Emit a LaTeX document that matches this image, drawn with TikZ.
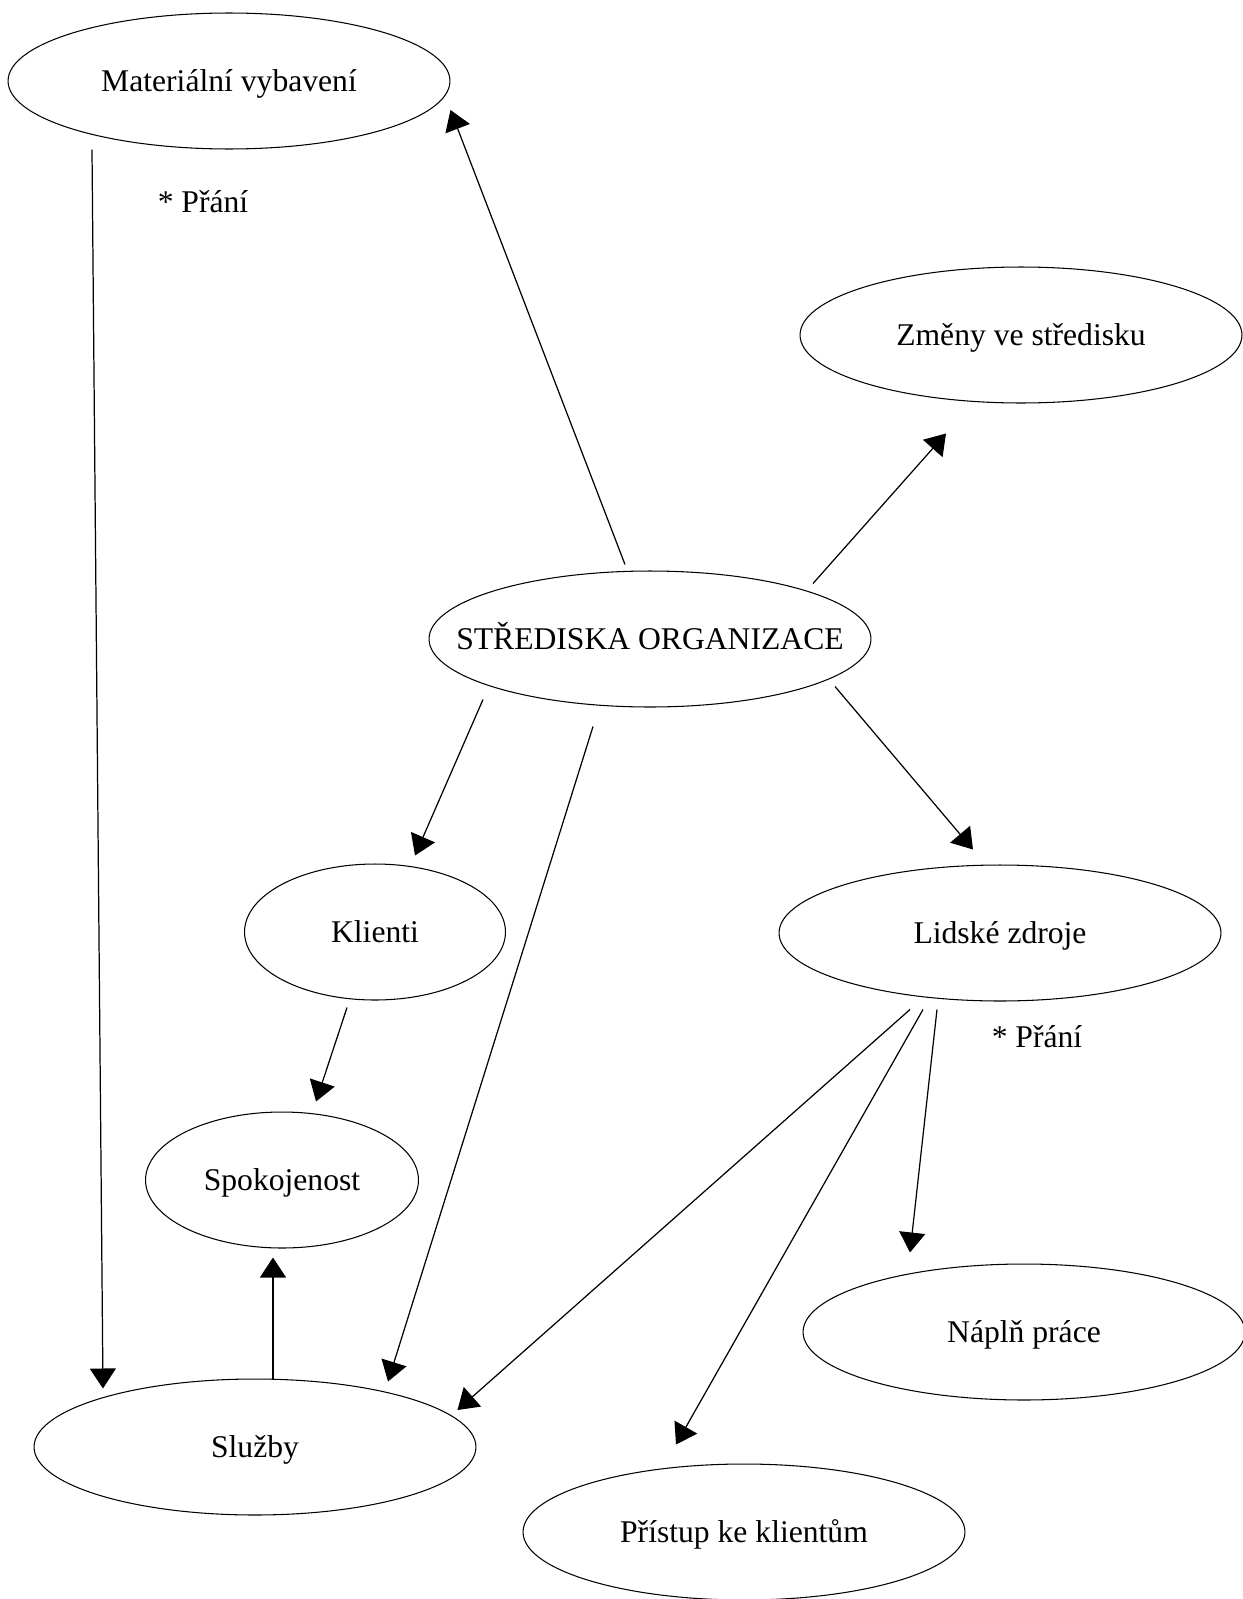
\documentclass[tikz,border=0pt]{standalone}
\usepackage{fontspec}
\setmainfont{Liberation Serif}
\usetikzlibrary{shapes.geometric,arrows.meta}

\begin{document}
\begin{tikzpicture}[x=0.02cm, y=-0.02cm,
    every node/.style={font=\fontsize{18}{22}\selectfont, text height=12pt, text depth=0pt},
    bubble/.style={ellipse, draw, line width=0.6pt, inner sep=0pt, minimum width=8.84cm, minimum height=2.72cm},
    arr/.style={-{Triangle[length=0.4cm, width=0.52cm]}, line width=0.7pt}]
    \useasboundingbox (0,0) rectangle (1242,1599);
    \node[bubble, label=center:{Materiální vybavení}] (mat) at (229,81) {};
    \node[bubble, label=center:{Změny ve středisku}] (zmeny) at (1021,335) {};
    \node[bubble, label=center:{STŘEDISKA ORGANIZACE}] (stred) at (650,639) {};
    \node[bubble, minimum width=5.22cm, label=center:{Klienti}] (klienti) at (375,932) {};
    \node[bubble, label=center:{Lidské zdroje}] (lidske) at (1000,933) {};
    \node[bubble, minimum width=5.46cm, label=center:{Spokojenost}] (spokoj) at (282,1180) {};
    \node[bubble, label=center:{Náplň práce}] (naplne) at (1024,1332) {};
    \node[bubble, label=center:{Služby}] (sluzby) at (255,1447) {};
    \node[bubble, label=center:{Přístup ke klientům}] (pristup) at (744,1532) {};
    \node (prani1) at (203,202) {* Přání};
    \node (prani2) at (1037,1037) {* Přání};
    % vazby
    \draw[arr] ([shift={(-137,0)}]mat.south) -- ([shift={(-152,10)}]sluzby.north);
    \draw[arr] ([shift={(-25,-6)}]stred.north) -- ([shift={(0,29)}]mat.east);
    \draw[arr] ([shift={(163,13)}]stred.north) -- ([shift={(-75,30)}]zmeny.south);
    \draw[arr] ([shift={(-167,-8)}]stred.south) -- ([shift={(40,-8)}]klienti.north);
    \draw[arr] ([shift={(-57,19)}]stred.south) -- ([shift={(133,3)}]sluzby.north);
    \draw[arr] ([shift={(185,-21)}]stred.south) -- ([shift={(-27,-15)}]lidske.north);
    \draw[arr] ([shift={(-28,7)}]klienti.south) -- ([shift={(34,-10)}]spokoj.north);
    \draw[arr] ([shift={(18,0)}]sluzby.north) -- ([shift={(-9,9)}]spokoj.south);
    \draw[arr] ([shift={(-90,8)}]lidske.south) -- ([shift={(-19,-37)}]sluzby.east);
    \draw[arr] ([shift={(-77,8)}]lidske.south) -- ([shift={(-68,-19)}]pristup.north);
    \draw[arr] ([shift={(-63,8)}]lidske.south) -- ([shift={(-114,-11)}]naplne.north);
\end{tikzpicture}
\end{document}
